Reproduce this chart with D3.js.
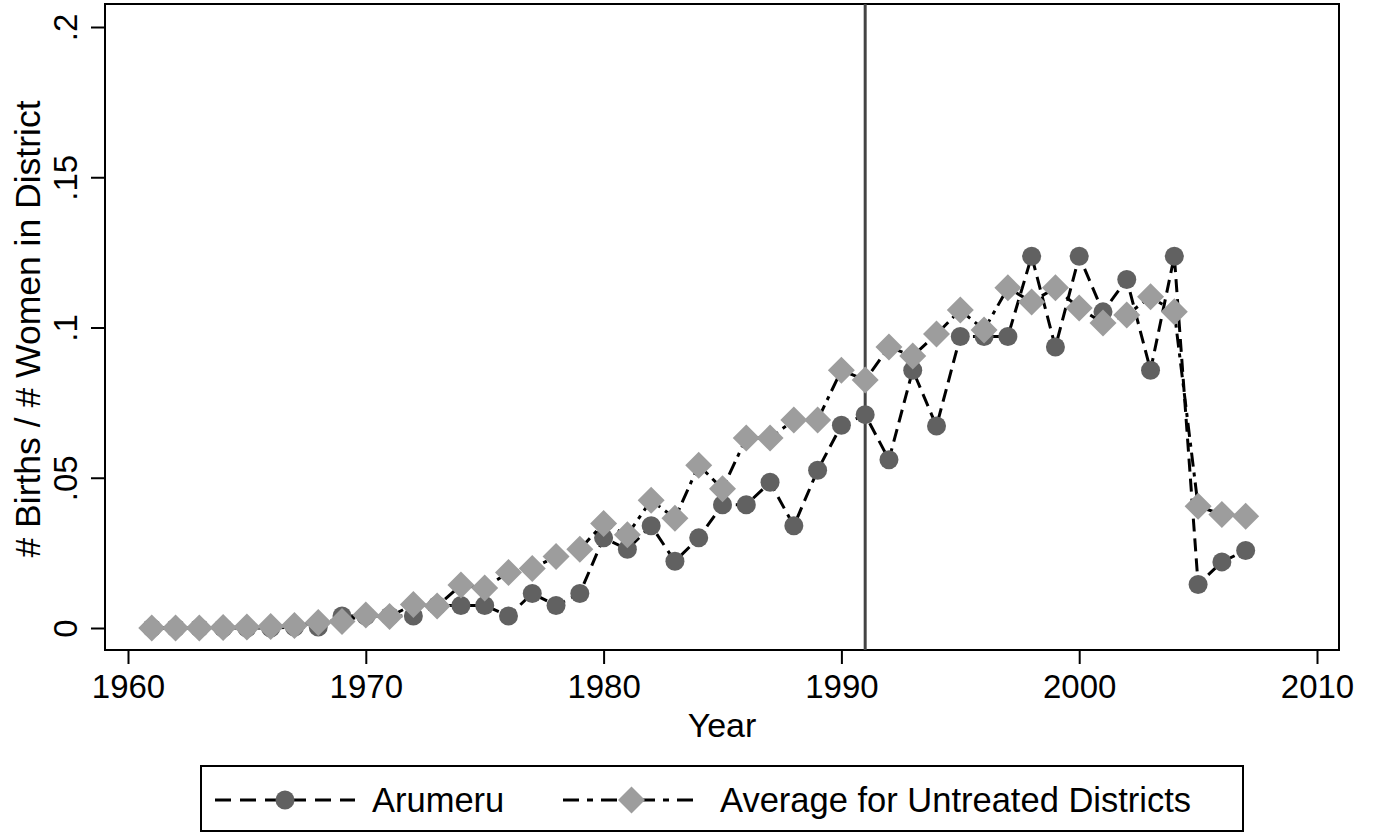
<!DOCTYPE html>
<html>
<head>
<meta charset="utf-8">
<script src="https://cdn.jsdelivr.net/npm/d3@7"></script>
<style>
  body { margin: 0; background: #fff; }
  text { font-family: "Liberation Sans", Arial, Helvetica, sans-serif; fill: #000; }
</style>
</head>
<body>
<script>
// data
var years = d3.range(1961, 2008)
var arumeru = [0, 0, 0, 0, 0, 0, 0.0003, 0.0003, 0.004, 0.004,
               0.004, 0.004, 0.0075, 0.0075, 0.0075, 0.004, 0.0115, 0.0075, 0.0115, 0.030,
               0.0262, 0.034, 0.0222, 0.030, 0.041, 0.041, 0.0485, 0.034, 0.0525, 0.0675,
               0.071, 0.056, 0.0858, 0.0672, 0.097, 0.097, 0.097, 0.1237, 0.0935, 0.1237,
               0.1052, 0.116, 0.0858, 0.1237, 0.0145, 0.022, 0.0258]
var untreated = [0, 0, 0, 0.0002, 0.0003, 0.0005, 0.0008, 0.0018, 0.0022, 0.0043,
                 0.0038, 0.0078, 0.0073, 0.0143, 0.0133, 0.0185, 0.0198, 0.0238, 0.0262, 0.0348,
                 0.031, 0.0425, 0.0365, 0.0542, 0.0463, 0.0632, 0.0632, 0.0692, 0.0692, 0.0858,
                 0.0825, 0.0935, 0.0905, 0.0978, 0.1058, 0.0992, 0.1132, 0.1085, 0.1132, 0.1065,
                 0.1015, 0.1042, 0.1102, 0.1052, 0.0405, 0.0378, 0.0372]
var xTicks = [1960, 1970, 1980, 1990, 2000, 2010]
var yTicks = [0, 0.05, 0.1, 0.15, 0.2]
var yTickLabels = ["0", ".05", ".1", ".15", ".2"]
var legendLabels = ["Arumeru", "Average for Untreated Districts"]
var cutoffYear = 1991

var width = 1375, height = 834
var plotLeft = 105, plotRight = 1339, plotTop = 4, plotBottom = 650

var svg = d3.select("body").append("svg")
            .attr("width", width)
            .attr("height", height)

var x = d3.scaleLinear().domain([1960, 2010]).range([128, 1317])
var y = d3.scaleLinear().domain([0, 0.2]).range([628, 27])

var circleFill = "#616161"
var diamondFill = "#9d9d9d"

// plot frame
svg.append("rect")
   .attr("x", plotLeft).attr("y", plotTop)
   .attr("width", plotRight - plotLeft).attr("height", plotBottom - plotTop)
   .style("fill", "none").style("stroke", "#000").style("stroke-width", 2)

// y axis
var yAxis = svg.append("g")
               .attr("transform", "translate(" + plotLeft + ",0)")
               .call(d3.axisLeft(y).tickValues(yTicks).tickSize(14).tickSizeOuter(0)
                       .tickFormat(function(d, i) { return yTickLabels[i] }))
yAxis.select(".domain").remove()
yAxis.selectAll(".tick line").style("stroke", "#000").style("stroke-width", 2)
yAxis.selectAll(".tick text")
     .attr("x", 0).attr("dy", null).attr("y", 0)
     .attr("transform", "translate(-28,0) rotate(-90)")
     .attr("text-anchor", "middle")
     .style("font-size", "33px")
     .style("font-family", "Liberation Sans, Arial, sans-serif")

// x axis
var xAxis = svg.append("g")
               .attr("transform", "translate(0," + plotBottom + ")")
               .call(d3.axisBottom(x).tickValues(xTicks).tickSize(14).tickSizeOuter(0)
                       .tickFormat(d3.format("d")))
xAxis.select(".domain").remove()
xAxis.selectAll(".tick line").style("stroke", "#000").style("stroke-width", 2)
xAxis.selectAll(".tick text")
     .attr("y", 48).attr("dy", null)
     .style("font-size", "33px")
     .style("font-family", "Liberation Sans, Arial, sans-serif")

// axis titles
svg.append("text")
   .attr("x", 722).attr("y", 737)
   .attr("text-anchor", "middle")
   .style("font-size", "34px")
   .text("Year")

svg.append("text")
   .attr("transform", "translate(40,329) rotate(-90)")
   .attr("text-anchor", "middle")
   .style("font-size", "35.5px")
   .text("# Births / # Women in District")

// vertical line at 1991
svg.append("line")
   .attr("x1", x(cutoffYear)).attr("x2", x(cutoffYear))
   .attr("y1", plotTop).attr("y2", plotBottom)
   .style("stroke", "#444").style("stroke-width", 3)

var line = d3.line().x(function(d) { return x(d[0]) }).y(function(d) { return y(d[1]) })
var diamond = function(s) { return "M0," + (-s) + "L" + s + ",0L0," + s + "L" + (-s) + ",0Z" }

// Arumeru
svg.append("path")
   .datum(d3.zip(years, arumeru))
   .attr("d", line)
   .style("fill", "none").style("stroke", "#000").style("stroke-width", 3)
   .style("stroke-dasharray", "13,7")

svg.append("g").selectAll("circle")
   .data(d3.zip(years, arumeru))
   .enter().append("circle")
   .attr("cx", function(d) { return x(d[0]) })
   .attr("cy", function(d) { return y(d[1]) })
   .attr("r", 9.5)
   .style("fill", circleFill)

// untreated average
svg.append("path")
   .datum(d3.zip(years, untreated))
   .attr("d", line)
   .style("fill", "none").style("stroke", "#000").style("stroke-width", 3)
   .style("stroke-dasharray", "14,6,4,6")

svg.append("g").selectAll("path")
   .data(d3.zip(years, untreated))
   .enter().append("path")
   .attr("transform", function(d) { return "translate(" + x(d[0]) + "," + y(d[1]) + ")" })
   .attr("d", diamond(13.5))
   .style("fill", diamondFill)

// legend
svg.append("rect")
   .attr("x", 201).attr("y", 766)
   .attr("width", 1042).attr("height", 65)
   .style("fill", "#fff").style("stroke", "#000").style("stroke-width", 2)

var legendY = 800
var keys = [{x0: 215, x1: 355, text: 372}, {x0: 563, x1: 700, text: 720}]

var leg = svg.append("g").selectAll("g")
             .data(legendLabels)
             .enter().append("g")

leg.append("line")
   .attr("x1", function(d, i) { return keys[i].x0 })
   .attr("x2", function(d, i) { return keys[i].x1 })
   .attr("y1", legendY).attr("y2", legendY)
   .style("stroke", "#000").style("stroke-width", 3)
   .style("stroke-dasharray", function(d, i) { return i == 0 ? "16,9" : "16,8,6,8" })

leg.append("path")
   .attr("transform", function(d, i) { return "translate(" + (keys[i].x0 + keys[i].x1) / 2 + "," + legendY + ")" })
   .attr("d", function(d, i) {
       return i == 0 ? d3.symbol().type(d3.symbolCircle).size(Math.PI * 90)() : diamond(13.5)
   })
   .style("fill", function(d, i) { return i == 0 ? circleFill : diamondFill })

leg.append("text")
   .attr("x", function(d, i) { return keys[i].text })
   .attr("y", legendY + 12)
   .style("font-size", "34.5px")
   .text(function(d) { return d })
</script>
</body>
</html>
